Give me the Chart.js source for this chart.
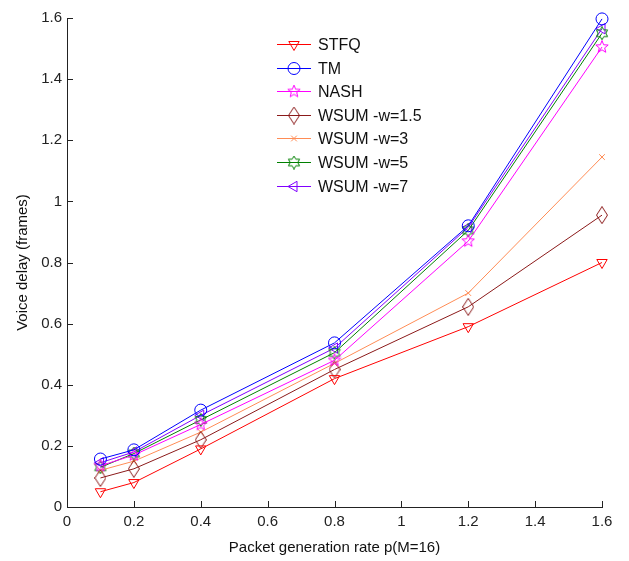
<!DOCTYPE html>
<html>
<head>
<meta charset="utf-8">
<script src="https://cdn.jsdelivr.net/npm/chart.js@4"></script>
<style>
body { margin: 0; background: #fff; }
#wrap { width: 629px; height: 561px; }
</style>
</head>
<body>
<div id="wrap"><canvas id="delay-chart"></canvas></div>
<script>
// values
const rates = [0.1, 0.2, 0.4, 0.8, 1.2, 1.6];
const stfq = [0.05, 0.08, 0.19, 0.42, 0.59, 0.80];
const tm = [0.157, 0.187, 0.317, 0.537, 0.92, 1.597];
const nash = [0.135, 0.17, 0.27, 0.48, 0.87, 1.505];
const wsum15 = [0.095, 0.125, 0.22, 0.45, 0.655, 0.955];
const wsum3 = [0.12, 0.15, 0.245, 0.47, 0.70, 1.145];
const wsum5 = [0.13, 0.175, 0.285, 0.505, 0.905, 1.55];
const wsum7 = [0.145, 0.18, 0.30, 0.52, 0.915, 1.565];
const xTicks = [0, 0.2, 0.4, 0.6, 0.8, 1, 1.2, 1.4, 1.6];
const yTicks = [0, 0.2, 0.4, 0.6, 0.8, 1, 1.2, 1.4, 1.6];

const FONT = '"Liberation Sans", Arial, sans-serif';

// small marker canvases for shapes chart.js does not have
function marker(w, h, color, path) {
    const c = document.createElement('canvas');
    c.width = w; c.height = h;
    const g = c.getContext('2d');
    g.strokeStyle = color;
    g.lineWidth = 1;
    g.beginPath();
    path(g, w, h);
    g.closePath();
    g.stroke();
    return c;
}
function starPath(n, rOut, rIn) {
    return function(g, w, h) {
        const cx = w / 2, cy = h / 2;
        for (let i = 0; i < n * 2; i++) {
            const r = i % 2 ? rIn : rOut;
            const a = -Math.PI / 2 + i * Math.PI / n;
            const px = cx + r * Math.cos(a), py = cy + r * Math.sin(a);
            if (i === 0) g.moveTo(px, py); else g.lineTo(px, py);
        }
    };
}
const diamond = marker(12, 18, '#8b1a1a', function(g, w, h) {
    g.moveTo(w / 2, 0.5); g.lineTo(w - 0.5, h / 2); g.lineTo(w / 2, h - 0.5); g.lineTo(0.5, h / 2);
});
const pentagram = marker(14, 14, '#ff00ff', starPath(5, 6.5, 2.8));
const hexagram = marker(14, 14, '#008000', starPath(6, 6.5, 3.8));

function series(label, values, color, style, extra) {
    return Object.assign({
        label: label,
        data: rates.map((r, i) => ({ x: r, y: values[i] })),
        borderColor: color,
        backgroundColor: 'rgba(0,0,0,0)',
        pointBorderColor: color,
        pointBackgroundColor: 'rgba(0,0,0,0)',
        borderWidth: 1,
        pointStyle: style,
        pointRadius: 6,
        pointBorderWidth: 1,
        clip: false,
        tension: 0
    }, extra || {});
}

const datasets = [
    series('STFQ', stfq, '#ff0000', 'triangle', { pointRotation: 180 }),
    series('TM', tm, '#0000ff', 'circle'),
    series('NASH', nash, '#ff00ff', pentagram),
    series('WSUM -w=1.5', wsum15, '#8b1a1a', diamond),
    series('WSUM -w=3', wsum3, '#ff8c55', 'crossRot', { pointRadius: 4 }),
    series('WSUM -w=5', wsum5, '#008000', hexagram),
    series('WSUM -w=7', wsum7, '#8000ff', 'triangle', { pointRotation: -90 })
];

// tick marks drawn inside the axes, like the matlab figure
const innerTicks = {
    id: 'innerTicks',
    afterDraw(chart) {
        const ctx = chart.ctx, xs = chart.scales.x, ys = chart.scales.y;
        ctx.save();
        ctx.strokeStyle = '#222';
        ctx.lineWidth = 1;
        ctx.beginPath();
        xTicks.forEach(v => {
            const px = Math.round(xs.getPixelForValue(v)) + 0.5;
            ctx.moveTo(px, ys.bottom); ctx.lineTo(px, ys.bottom - 6);
        });
        yTicks.forEach(v => {
            const py = Math.round(ys.getPixelForValue(v)) + 0.5;
            ctx.moveTo(xs.left, py); ctx.lineTo(xs.left + 6, py);
        });
        ctx.stroke();
        ctx.restore();
    }
};

// legend with line through the marker
const lineLegend = {
    id: 'lineLegend',
    afterDraw(chart) {
        const ctx = chart.ctx;
        const x0 = 277, y0 = 44, step = 23.6;
        ctx.save();
        ctx.font = '16px ' + FONT;
        ctx.textBaseline = 'middle';
        chart.data.datasets.forEach((ds, i) => {
            const y = Math.round(y0 + i * step) + 0.5;
            ctx.strokeStyle = ds.borderColor;
            ctx.lineWidth = 1;
            ctx.beginPath();
            ctx.moveTo(x0, y); ctx.lineTo(x0 + 34, y);
            ctx.stroke();
            ctx.fillStyle = 'rgba(0,0,0,0)';
            Chart.helpers.drawPoint(ctx, {
                pointStyle: ds.pointStyle,
                rotation: ds.pointRotation || 0,
                radius: ds.pointRadius,
                borderWidth: 1
            }, x0 + 17, y);
            ctx.fillStyle = '#111';
            ctx.fillText(ds.label, x0 + 41, y + 1);
        });
        ctx.restore();
    }
};

new Chart(document.getElementById('delay-chart'), {
    type: 'line',
    data: { datasets: datasets },
    plugins: [innerTicks, lineLegend],
    options: {
        responsive: true,
        maintainAspectRatio: false,
        animation: false,
        layout: { padding: { top: 18, right: 27, left: 0, bottom: 0 } },
        plugins: {
            legend: { display: false },
            tooltip: { enabled: false }
        },
        scales: {
            x: {
                type: 'linear',
                min: 0,
                max: 1.6,
                afterFit(scale) { scale.height = 54; },
                afterBuildTicks(scale) { scale.ticks = xTicks.map(v => ({ value: v })); },
                grid: { display: false, drawTicks: false },
                border: { color: '#222', width: 1 },
                ticks: {
                    color: '#222',
                    font: { family: FONT, size: 15 },
                    padding: 6,
                    callback: v => String(v)
                },
                title: {
                    display: true,
                    text: 'Packet generation rate p(M=16)',
                    color: '#111',
                    font: { family: FONT, size: 15 },
                    padding: { top: 4 }
                }
            },
            y: {
                min: 0,
                max: 1.6,
                afterFit(scale) { scale.width = 67; },
                afterBuildTicks(scale) { scale.ticks = yTicks.map(v => ({ value: v })); },
                grid: { display: false, drawTicks: false },
                border: { color: '#222', width: 1 },
                ticks: {
                    color: '#222',
                    font: { family: FONT, size: 15 },
                    padding: 5,
                    callback: v => String(v)
                },
                title: {
                    display: true,
                    text: 'Voice delay (frames)',
                    color: '#111',
                    font: { family: FONT, size: 15 },
                    padding: { top: 14, bottom: 2 }
                }
            }
        }
    }
});
</script>
</body>
</html>
